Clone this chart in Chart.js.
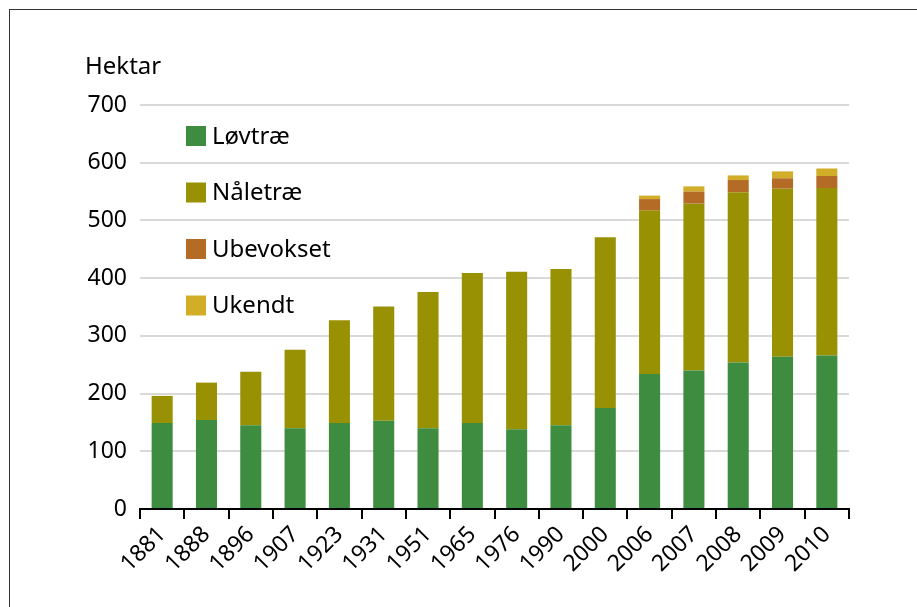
<!DOCTYPE html>
<html>
<head>
<meta charset="utf-8">
<script src="https://cdn.jsdelivr.net/npm/chart.js@4.4.1/dist/chart.umd.min.js"></script>
<style>
  html, body { margin: 0; padding: 0; background: #fff; overflow: hidden; }
  #wrap { position: relative; width: 917px; height: 607px; }
  #frame { position: absolute; left: 9px; top: 9px; width: 1000px; height: 1000px; border: 1.5px solid #333; box-sizing: border-box; }
  canvas { position: absolute; left: 0; top: 0; }
</style>
</head>
<body>
<div id="wrap">
  <div id="frame"></div>
  <canvas id="chart" width="917" height="607"></canvas>
</div>
<script>
const years = ["1881", "1888", "1896", "1907", "1923", "1931", "1951", "1965", "1976", "1990", "2000", "2006", "2007", "2008", "2009", "2010"];
const lovtrae = [149, 154, 145, 140, 149, 153, 140, 149, 138, 145, 175, 234, 240, 254, 264, 266];
const naaletrae = [47, 65, 93, 136, 178, 198, 236, 260, 273, 271, 296, 283, 289, 295, 291, 290];
const ubevokset = [0, 0, 0, 0, 0, 0, 0, 0, 0, 0, 0, 20, 21, 21, 18, 21];
const ukendt = [0, 0, 0, 0, 0, 0, 0, 0, 0, 0, 0, 6, 9, 8, 12, 13];
const yTicks = [0, 100, 200, 300, 400, 500, 600, 700];

const seriesNames = ["Løvtræ", "Nåletræ", "Ubevokset", "Ukendt"];
const seriesColors = ["#3e8c3f", "#999104", "#b46b26", "#d1ad28"];
const fontFamily = "'Noto Sans', 'Open Sans', sans-serif";

// legend inside the plot and the unit label above the axis
const extras = {
    id: "extras",
    afterDraw(chart) {
        const c = chart.ctx;
        c.save();
        c.fillStyle = "#000";
        c.font = "24px " + fontFamily;
        c.textBaseline = "middle";
        c.textAlign = "left";
        c.fillText("Hektar", 85, 67);
        chart.data.datasets.forEach((ds, i) => {
            const y = 136 + i * 56.5;
            c.fillStyle = ds.backgroundColor;
            c.fillRect(186, y - 10, 20, 20);
            c.fillStyle = "#000";
            c.fillText(ds.label, 212, y + 1);
        });
        c.restore();
    }
};

const ctx = document.getElementById("chart").getContext("2d");
const chart = new Chart(ctx, {
    type: "bar",
    data: {
        labels: years,
        datasets: [
            { label: seriesNames[0], data: lovtrae, backgroundColor: seriesColors[0] },
            { label: seriesNames[1], data: naaletrae, backgroundColor: seriesColors[1] },
            { label: seriesNames[2], data: ubevokset, backgroundColor: seriesColors[2] },
            { label: seriesNames[3], data: ukendt, backgroundColor: seriesColors[3] },
        ],
    },
    options: {
        responsive: false,
        animation: false,
        layout: { padding: { top: 105, right: 68, left: 0, bottom: 0 } },
        datasets: { bar: { barPercentage: 0.95, categoryPercentage: 0.5, borderWidth: 0 } },
        plugins: { legend: { display: false }, tooltip: { enabled: false } },
        scales: {
            x: {
                stacked: true,
                afterFit: (s) => { s.height = 98; },
                grid: { drawOnChartArea: false, color: "#000", tickLength: 10, lineWidth: 2 },
                border: { color: "#000", width: 2 },
                ticks: {
                    color: "#000",
                    font: { family: fontFamily, size: 23 },
                    minRotation: 45,
                    maxRotation: 45,
                    padding: 2,
                    autoSkip: false,
                },
            },
            y: {
                stacked: true,
                min: 0,
                max: 700,
                afterFit: (s) => { s.width = 140; },
                afterBuildTicks: (s) => { s.ticks = yTicks.map(v => ({ value: v })); },
                grid: { color: "#d9d9d9", lineWidth: 2, drawTicks: false },
                border: { display: false },
                ticks: {
                    color: "#000",
                    font: { family: fontFamily, size: 23 },
                    padding: 13,
                },
            },
        },
    },
    plugins: [extras],
});
</script>
</body>
</html>
